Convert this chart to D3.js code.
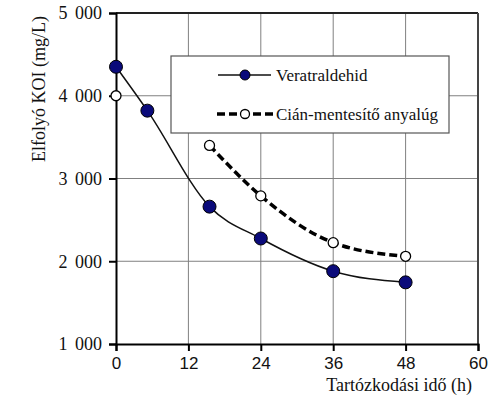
<!DOCTYPE html>
<html><head><meta charset="utf-8">
<script src="https://cdn.jsdelivr.net/npm/d3@7"></script>
<style>body{margin:0;background:#fff}</style>
</head><body>
<svg id="c" width="501" height="398"></svg>
<script>
const verX = [0, 5.2, 15.5, 24, 36, 48];
const verY = [4350, 3820, 2660, 2275, 1880, 1745];
const cianX = [0, 15.5, 24, 36, 48];
const cianY = [4000, 3400, 2790, 2225, 2060];
const xTicks = [0, 12, 24, 36, 48, 60];
const yTicks = [1000, 2000, 3000, 4000, 5000];
const seriesNames = ["Veratraldehid", "Cián-mentesítő anyalúg"];
const xTitle = "Tartózkodási idő (h)";
const yTitle = "Elfolyó KOI (mg/L)";

const svg = d3.select("#c");
const L = 116, T = 13, R = 478, B = 344;
const x = d3.scaleLinear().domain([0, 60]).range([L, R]);
const y = d3.scaleLinear().domain([1000, 5000]).range([B, T]);
const serif = "Liberation Serif";
const sans = "Liberation Sans";
const fmt = d => d3.format(",")(d).replace(",", " ");

// grid
const g = svg.append("g");
g.selectAll(".vg").data(xTicks.filter(d => d > 0 && d < 60)).join("line")
  .attr("x1", d => x(d)).attr("x2", d => x(d)).attr("y1", T).attr("y2", B)
  .attr("stroke", "#808080").attr("stroke-width", 1);
g.selectAll(".hg").data(yTicks.filter(d => d > 1000 && d < 5000)).join("line")
  .attr("y1", d => y(d)).attr("y2", d => y(d)).attr("x1", L).attr("x2", R)
  .attr("stroke", "#808080").attr("stroke-width", 1);

// frame top/right
svg.append("line").attr("x1", L).attr("x2", R).attr("y1", T).attr("y2", T).attr("stroke", "#222").attr("stroke-width", 2);
svg.append("line").attr("x1", R).attr("x2", R).attr("y1", T).attr("y2", B).attr("stroke", "#444").attr("stroke-width", 2);

// axes
const xa = svg.append("g").attr("transform", `translate(0,${B})`)
  .call(d3.axisBottom(x).tickValues(xTicks).tickSize(7).tickPadding(6).tickFormat(d3.format("d")));
xa.select(".domain").attr("stroke", "#000").attr("stroke-width", 2);
xa.selectAll(".tick line").attr("stroke", "#000").attr("stroke-width", 2);
xa.selectAll("text").attr("font-family", sans).attr("font-size", 17).attr("fill", "#111");

const ya = svg.append("g").attr("transform", `translate(${L},0)`)
  .call(d3.axisLeft(y).tickValues(yTicks).tickSize(7).tickPadding(7).tickFormat(fmt));
ya.select(".domain").attr("stroke", "#000").attr("stroke-width", 2);
ya.selectAll(".tick line").attr("stroke", "#000").attr("stroke-width", 2);
ya.selectAll("text").attr("font-family", serif).attr("font-size", 18).attr("fill", "#111")
  .attr("word-spacing", 3);

// titles
svg.append("text").attr("x", 472).attr("y", 391).attr("text-anchor", "end")
  .attr("font-family", serif).attr("font-size", 18).attr("fill", "#111").text(xTitle);
svg.append("text").attr("transform", "translate(45,89) rotate(-90)").attr("text-anchor", "middle")
  .attr("font-family", serif).attr("font-size", 18).attr("fill", "#111").text(yTitle);

// lines
const ver = verX.map((d, i) => [d, verY[i]]);
const cian = cianX.map((d, i) => [d, cianY[i]]);
const line = d3.line().x(d => x(d[0])).y(d => y(d[1])).curve(d3.curveMonotoneX);
svg.append("path").attr("d", line(ver)).attr("fill", "none").attr("stroke", "#111").attr("stroke-width", 1.5);
svg.append("path").attr("d", line(cian.slice(1))).attr("fill", "none").attr("stroke", "#000")
  .attr("stroke-width", 3.5).attr("stroke-dasharray", "8,4");

svg.selectAll(".vm").data(ver).join("circle")
  .attr("cx", d => x(d[0])).attr("cy", d => y(d[1])).attr("r", 6.5)
  .attr("fill", "#0a0a7a").attr("stroke", "#000").attr("stroke-width", 1);
svg.selectAll(".cm").data(cian).join("circle")
  .attr("cx", d => x(d[0])).attr("cy", d => y(d[1])).attr("r", 5)
  .attr("fill", "#fff").attr("stroke", "#000").attr("stroke-width", 1.3);

// legend
const lg = svg.append("g");
lg.append("rect").attr("x", 171).attr("y", 56).attr("width", 278).attr("height", 77)
  .attr("fill", "#fff").attr("stroke", "#555").attr("stroke-width", 1.2);
lg.append("line").attr("x1", 218).attr("x2", 271).attr("y1", 75).attr("y2", 75).attr("stroke", "#111").attr("stroke-width", 1.5);
lg.append("circle").attr("cx", 245).attr("cy", 75).attr("r", 5).attr("fill", "#0a0a7a").attr("stroke", "#000");
lg.append("line").attr("x1", 217).attr("x2", 273).attr("y1", 114).attr("y2", 114).attr("stroke", "#000")
  .attr("stroke-width", 3.5).attr("stroke-dasharray", "8,4");
lg.append("circle").attr("cx", 245).attr("cy", 114).attr("r", 4.5).attr("fill", "#fff").attr("stroke", "#000").attr("stroke-width", 1.3);
lg.selectAll(".lt").data(seriesNames).join("text")
  .attr("x", 276).attr("y", (d, i) => [75, 114][i]).attr("dy", "0.35em")
  .attr("font-family", serif).attr("font-size", 17).attr("fill", "#111").text(d => d);
</script>
</body></html>
